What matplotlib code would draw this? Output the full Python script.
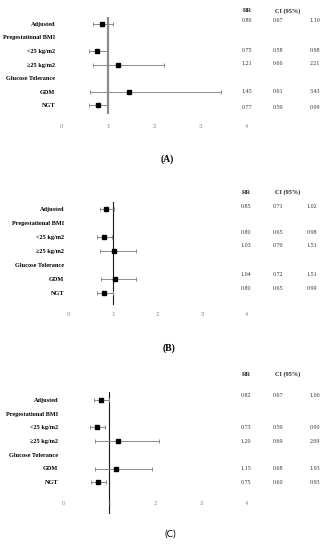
import numpy as np
import matplotlib
matplotlib.use("Agg")
import matplotlib.pyplot as plt
from matplotlib import transforms

# ---------------- data ----------------
categories = ["Adjusted", "Pregestational BMI", "<25 kg/m2", "\u226525 kg/m2",
              "Glucose Tolerance", "GDM", "NGT"]
tick_values = [0, 1, 2, 3, 4]
panel_names = ["(A)", "(B)", "(C)"]
header_rr = "RR"
header_ci = "CI (95%)"

nan = np.nan
rr_a = [0.86, nan, 0.75, 1.21, nan, 1.45, 0.77]
lo_a = [0.67, nan, 0.58, 0.66, nan, 0.61, 0.59]
hi_a = [1.10, nan, 0.98, 2.21, nan, 3.43, 0.99]

rr_b = [0.85, nan, 0.80, 1.03, nan, 1.04, 0.80]
lo_b = [0.71, nan, 0.65, 0.70, nan, 0.72, 0.65]
hi_b = [1.02, nan, 0.98, 1.51, nan, 1.51, 0.99]

rr_c = [0.82, nan, 0.73, 1.20, nan, 1.15, 0.75]
lo_c = [0.67, nan, 0.59, 0.69, nan, 0.68, 0.60]
hi_c = [1.00, nan, 0.90, 2.09, nan, 1.93, 0.93]

# ---------------- layout (pixels) ----------------
W, H = 326, 550
fig = plt.figure(figsize=(W / 100, H / 100), dpi=100)

serif = ["Liberation Serif", "DejaVu Serif"]
sans = ["Lato", "DejaVu Sans"]

panels = [
    dict(rr=rr_a, lo=lo_a, hi=hi_a, x0=62, x4=247, ytop=17, ybot=114, row0=24, step=13.5,
         tick_y=127, header_y=11, val_dy=[-0.25, 0, 0, -0.08, 0, 0, 0.15], label_right=55,
         title_y=159, title_x=167, refcolor="#8c8c8c", reflw=1.6,
         title_font=dict(family=serif, weight="bold"), cols=[247, 278, 315]),
    dict(rr=rr_b, lo=lo_b, hi=hi_b, x0=68.5, x4=246.5, ytop=201.5, ybot=305, row0=209, step=14,
         tick_y=315, header_y=192, val_dy=[-0.2, 0, -0.3, -0.38, 0, -0.3, -0.35], label_right=64,
         title_y=348, title_x=169, refcolor="#1a1a1a", reflw=0.8,
         title_font=dict(family=serif, weight="bold"), cols=[246, 278, 312]),
    dict(rr=rr_c, lo=lo_c, hi=hi_c, x0=63.3, x4=247, ytop=391.5, ybot=513.5, row0=400, step=13.7,
         tick_y=504, header_y=374, val_dy=[-0.36, 0, 0, 0, 0, 0, 0], label_right=58,
         title_y=534, title_x=170, refcolor="#1a1a1a", reflw=0.8,
         title_font=dict(family=sans, weight="normal"), cols=[246, 278, 315]),
]

for name, p in zip(panel_names, panels):
    left = p["x0"] / W
    width = (p["x4"] - p["x0"]) / W
    bottom = 1 - p["ybot"] / H
    height = (p["ybot"] - p["ytop"]) / H
    ax = fig.add_axes([left, bottom, width, height])
    ax.set_facecolor("none")

    ax.set_xlim(tick_values[0], tick_values[-1])
    ytop_d = (p["ytop"] - p["row0"]) / p["step"]
    ybot_d = (p["ybot"] - p["row0"]) / p["step"]
    ax.set_ylim(ybot_d, ytop_d)

    for s in ax.spines.values():
        s.set_visible(False)

    ax.axvline(1, color=p["refcolor"], lw=p["reflw"], zorder=1)

    rr = np.array(p["rr"], dtype=float)
    lo = np.array(p["lo"], dtype=float)
    hi = np.array(p["hi"], dtype=float)
    ypos = np.arange(len(categories), dtype=float)
    m = ~np.isnan(rr)
    ax.errorbar(rr[m], ypos[m], xerr=[rr[m] - lo[m], hi[m] - rr[m]], fmt="none",
                ecolor="#8a8a8a", elinewidth=0.7, capsize=1.3, capthick=0.7, zorder=2)
    ax.plot(rr[m], ypos[m], "s", color="black", ms=3.2, zorder=3)

    # row labels
    ax.set_yticks(ypos)
    ax.set_yticklabels(categories, fontfamily=serif, fontweight="bold", fontsize=4.5)
    ax.tick_params(axis="y", length=0, pad=(p["x0"] - p["label_right"]) * 0.72)

    # x tick labels
    ax.set_xticks(tick_values)
    ax.set_xticklabels([str(t) for t in tick_values], fontfamily=sans, fontsize=4.2,
                       color="#8c8c8c")
    ax.tick_params(axis="x", length=0, pad=(p["tick_y"] - 3.0 - p["ybot"]) * 0.72)

    # right table
    tr = transforms.blended_transform_factory(fig.transFigure, ax.transData)
    hy = (p["header_y"] - p["row0"]) / p["step"]
    ax.text(p["cols"][0] / W, hy, header_rr, transform=tr, ha="center", va="center",
            fontfamily=serif, fontweight="bold", fontsize=4.5, color="#222222", clip_on=False)
    ax.text(275 / W, hy, header_ci, transform=tr, ha="left", va="center",
            fontfamily=serif, fontweight="bold", fontsize=4.5, color="#222222", clip_on=False)
    for i in range(len(categories)):
        if np.isnan(rr[i]):
            continue
        yv = ypos[i] + p["val_dy"][i]
        for xc, v in zip(p["cols"], (rr[i], lo[i], hi[i])):
            ax.text(xc / W, yv, f"{v:.2f}", transform=tr, ha="center", va="center",
                    fontfamily=serif, fontsize=4.3, color="#333333", clip_on=False)

    fig.text(p["title_x"] / W, 1 - p["title_y"] / H, name, ha="center", va="center",
             fontsize=7, color="black", **p["title_font"])

fig.savefig("out.png", dpi=100, facecolor="white")
